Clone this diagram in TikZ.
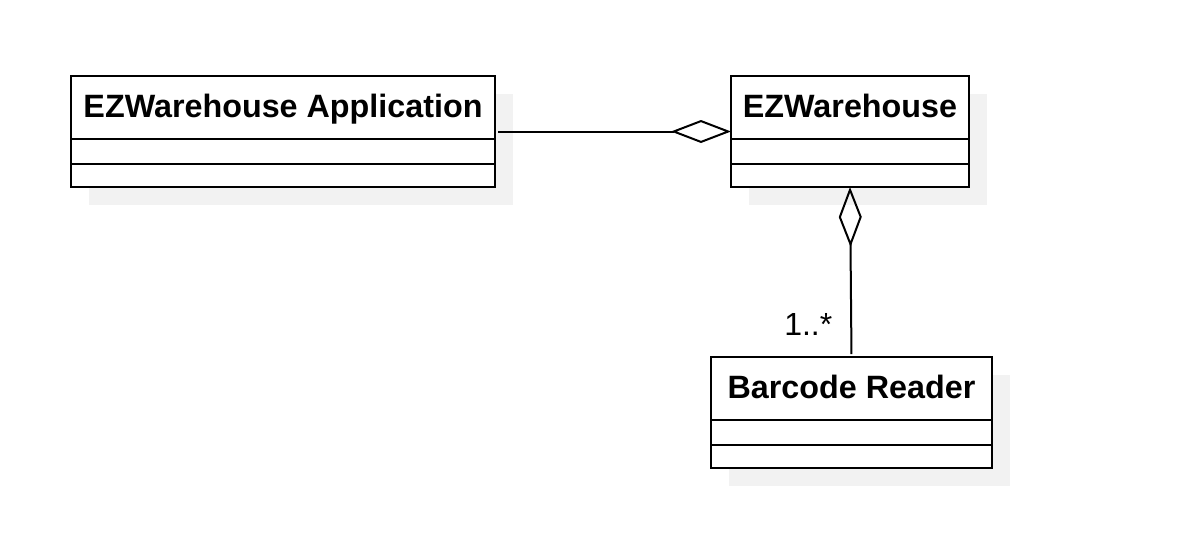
\documentclass[tikz,border=0pt]{standalone}
\usepackage{fontspec}
\setmainfont{Liberation Sans}
\usetikzlibrary{positioning,calc,arrows.meta,shadows}
\tikzset{
	umlbox/.style={
		rectangle,
		draw=black, line width=2pt,
		fill=white,
		inner sep=0pt, outer sep=0pt,
		drop shadow={shadow xshift=18pt, shadow yshift=-18pt, fill=black!5, opacity=1}},
	classname/.style={
		umlbox,
		font=\fontsize{32.3}{38}\selectfont\bfseries,
		text height=22pt, text depth=3pt,
		minimum height=63pt},
	attrpart/.style={umlbox, minimum height=25pt},
	opspart/.style={umlbox, minimum height=23pt},
	aggr/.style={draw, line width=2pt, {Diamond[open, length=60pt, width=23pt]}-, shorten >=3pt},
	mult/.style={font=\fontsize{32}{38}\selectfont, inner sep=0pt},
}

\begin{document}
\begin{tikzpicture}
[x=1pt, y=-1pt,
node distance=0pt]
\useasboundingbox (0,0) rectangle (1189,555);

\node[classname, minimum width=424pt] (apphead) at (283,107.5) {EZWarehouse Application};
\node[attrpart, minimum width=424pt, below=of apphead] (appattr) {};
\node[opspart, minimum width=424pt, below=of appattr] (appops) {};

\node[classname, minimum width=238pt, right=236pt of apphead] (ezwhead) {EZWarehouse};
\node[attrpart, minimum width=238pt, below=of ezwhead] (ezwattr) {};
\node[opspart, minimum width=238pt, below=of ezwattr] (ezwops) {};

\node[classname, minimum width=281pt, below=170pt of ezwops, xshift=1.5pt] (bchead) {Barcode Reader};
\node[attrpart, minimum width=281pt, below=of bchead] (bcattr) {};
\node[opspart, minimum width=281pt, below=of bcattr] (bcops) {};

\draw[aggr] ($(ezwhead.north west)!0.5!(ezwops.south west)$) -- ($(apphead.north east)!0.5!(appops.south east)$);
\draw[aggr] (ezwops.south) -- (bchead.north);
\node[mult, anchor=base east] (bcmult) at ([xshift=-19pt, yshift=22pt]bchead.north) {1..*};
\end{tikzpicture}
\end{document}
